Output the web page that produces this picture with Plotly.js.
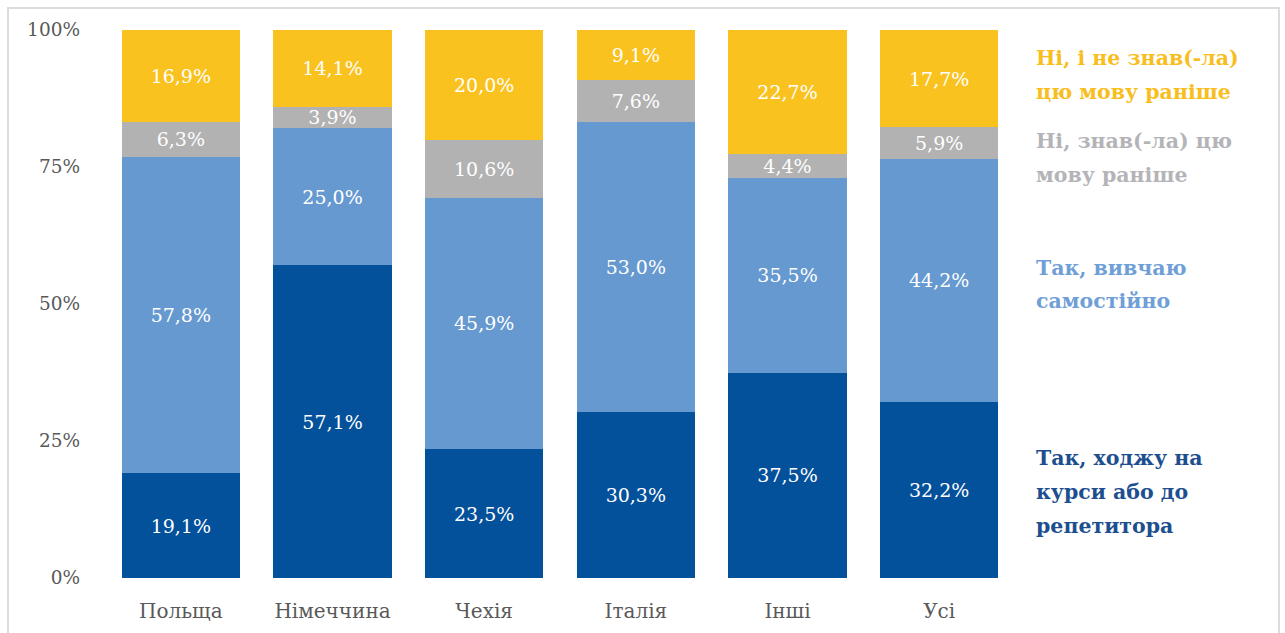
<!DOCTYPE html>
<html>
<head>
<meta charset="utf-8">
<script src="https://cdn.plot.ly/plotly-3.0.1.min.js"></script>
<style>
html,body{margin:0;padding:0;background:#fff;}
#chart{width:1285px;height:633px;position:relative;}
#frame{position:absolute;left:7px;top:7px;width:1273px;height:660px;border:2px solid #dcdcdc;pointer-events:none;box-sizing:border-box;}
</style>
</head>
<body>
<div id="chart"></div>
<div id="frame"></div>
<script>
const categories = ['Польща','Німеччина','Чехія','Італія','Інші','Усі'];
const courses   = [19.1, 57.1, 23.5, 30.3, 37.5, 32.2];
const selfStudy = [57.8, 25.0, 45.9, 53.0, 35.5, 44.2];
const knewLang  = [6.3, 3.9, 10.6, 7.6, 4.4, 5.9];
const notKnew   = [16.9, 14.1, 20.0, 9.1, 22.7, 17.7];
const seriesNames = [
  ['Так, ходжу на', 'курси або до', 'репетитора'],
  ['Так, вивчаю', 'самостійно'],
  ['Ні, знав(-ла) цю', 'мову раніше'],
  ['Ні, і не знав(-ла)', 'цю мову раніше']
];
const yTickVals = [0, 25, 50, 75, 100];
const yTickText = ['0%', '25%', '50%', '75%', '100%'];

const colors = ['#03509B', '#6699D0', '#B2B2B2', '#F9C21F'];
const legendColors = ['#1D4F8E', '#6F9FD6', '#B4B4B8', '#F8BE1E'];
const serif = 'DejaVu Serif';
const fmt = v => v.toFixed(1).replace('.', ',') + '%';

const allSeries = [courses, selfStudy, knewLang, notKnew];
const traces = allSeries.map((vals, i) => ({
  type: 'bar',
  x: categories,
  y: vals,
  name: seriesNames[i].join(' '),
  marker: {color: colors[i], line: {width: 0}},
  text: vals.map(fmt),
  textposition: 'inside',
  insidetextanchor: 'middle',
  textangle: 0,
  constraintext: 'none',
  textfont: {family: serif, size: 19, color: '#ffffff'},
  hoverinfo: 'skip'
}));

// legend label line centres, in pixels from top of the page
const margin = {l: 105, r: 270, t: 30, b: 55};
const plotH = 633 - margin.t - margin.b;
const legendLineY = [[458, 492, 526], [268, 301], [141, 175], [58, 92]];
const annotations = [];
seriesNames.forEach((lines, i) => {
  lines.forEach((ln, j) => {
    annotations.push({
      xref: 'paper', yref: 'paper',
      x: 1.021, y: (633 - margin.b - legendLineY[i][j]) / plotH,
      xanchor: 'left', yanchor: 'middle',
      align: 'left', showarrow: false,
      text: '<b>' + ln + '</b>',
      font: {family: serif, size: 20.5, color: legendColors[i]}
    });
  });
});

const layout = {
  width: 1285, height: 633,
  margin: margin,
  paper_bgcolor: '#ffffff',
  plot_bgcolor: '#ffffff',
  barmode: 'stack',
  bargap: 0.22,
  showlegend: false,
  xaxis: {
    showgrid: false, zeroline: false, showline: false, ticks: '',
    tickfont: {family: serif, size: 20, color: '#595959'},
    ticklabelstandoff: 19
  },
  yaxis: {
    range: [0, 100],
    tickvals: yTickVals, ticktext: yTickText,
    showgrid: false, zeroline: false, showline: false, ticks: '',
    tickfont: {family: serif, size: 18.5, color: '#595959'},
    ticklabelstandoff: 24
  },
  annotations: annotations,
  uniformtext: {mode: false}
};

Plotly.newPlot('chart', traces, layout, {displayModeBar: false, staticPlot: true});
</script>
</body>
</html>
